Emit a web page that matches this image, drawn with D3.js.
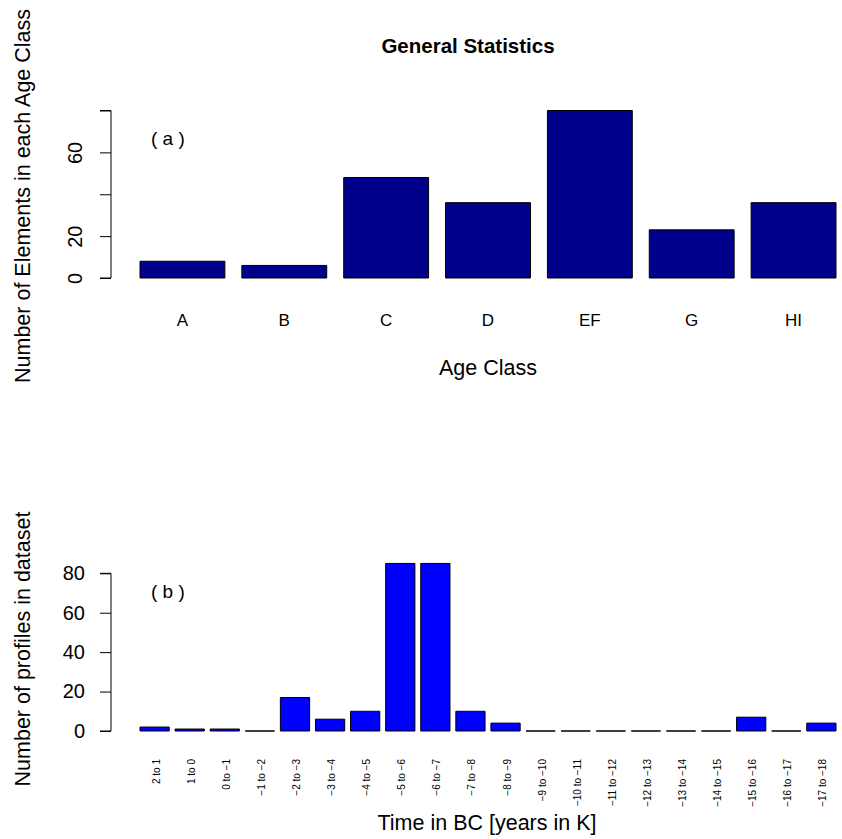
<!DOCTYPE html>
<html>
<head>
<meta charset="utf-8">
<script src="https://cdn.jsdelivr.net/npm/d3@7"></script>
<style>
  html, body { margin: 0; padding: 0; background: #fff; }
  svg { display: block; font-family: "Liberation Sans", Arial, Helvetica, sans-serif; }
</style>
</head>
<body>
<script>
// ---- data ----
const ageClasses = ["A", "B", "C", "D", "EF", "G", "HI"];
const ageCounts  = [8, 6, 48, 36, 80, 23, 36];
const ageTicks   = [0, 20, 40, 60, 80];
const ageTickLabels = ["0", "20", "", "60", ""];

const timeBins = ["2 to 1", "1 to 0", "0 to \u22121", "\u22121 to \u22122", "\u22122 to \u22123",
  "\u22123 to \u22124", "\u22124 to \u22125", "\u22125 to \u22126", "\u22126 to \u22127", "\u22127 to \u22128",
  "\u22128 to \u22129", "\u22129 to \u221210", "\u221210 to \u221211", "\u221211 to \u221212",
  "\u221212 to \u221213", "\u221213 to \u221214", "\u221214 to \u221215", "\u221215 to \u221216",
  "\u221216 to \u221217", "\u221217 to \u221218"];
const timeCounts = [2, 1, 1, 0, 17, 6, 10, 85, 85, 10, 4, 0, 0, 0, 0, 0, 0, 7, 0, 4];
const timeTicks  = [0, 20, 40, 60, 80];
const timeTickLabels = ["0", "20", "40", "60", "80"];

// ---- layout ----
const W = 842, H = 839;
const svg = d3.select("body").append("svg").attr("width", W).attr("height", H);

function barPanel(opts) {
  const g = svg.append("g");
  const x = d3.scaleBand().domain(opts.cats).range([140, 836])
    .paddingInner(1 / 6).paddingOuter(0);
  const y = d3.scaleLinear().domain([0, 80]).range([opts.y0, opts.y80]);

  g.selectAll("path.bar").data(opts.cats).enter().append("path")
    .attr("class", "bar")
    .attr("d", (d, i) => {
      const x0 = x(d), x1 = x(d) + x.bandwidth();
      const yt = y(opts.vals[i]), yb = y(0);
      return `M${x0},${yb}H${x1}V${yt}H${x0}Z`;
    })
    .attr("fill", opts.fill)
    .attr("stroke", "#000")
    .attr("stroke-width", 1);

  // y axis
  const ax = d3.axisLeft(y).tickValues(opts.ticks).tickSize(11).tickPadding(15)
    .tickFormat((d, i) => opts.tickLabels[i]);
  const ag = g.append("g").attr("transform", `translate(111,0)`).call(ax);
  ag.select(".domain").attr("stroke", "#000").attr("d", `M-11,${y(0)}H0V${y(80)}H-11`);
  ag.selectAll(".tick line").attr("stroke", "#000");
  ag.selectAll("text").attr("fill", "#000").style("font-size", "20px")
    .style("font-family", "Liberation Sans, Arial, sans-serif");
  if (opts.vertTicks) {
    ag.selectAll(".tick text")
      .attr("x", null).attr("dy", null)
      .attr("text-anchor", "middle")
      .attr("transform", "translate(-29,0) rotate(-90)");
  }
  return { g, x, y };
}

// Panel (a)
const pa = barPanel({
  cats: ageClasses, vals: ageCounts, y0: 278, y80: 110.5, fill: "#00008B",
  ticks: ageTicks, tickLabels: ageTickLabels, vertTicks: true
});
pa.g.selectAll("text.cat").data(ageClasses).enter().append("text")
  .attr("class", "cat")
  .attr("x", d => pa.x(d) + pa.x.bandwidth() / 2)
  .attr("y", 326)
  .attr("text-anchor", "middle")
  .style("font-size", "17px")
  .text(d => d);

svg.append("text").attr("x", 468).attr("y", 53).attr("text-anchor", "middle")
  .style("font-size", "20.5px").style("font-weight", "bold").text("General Statistics");
svg.append("text").attr("x", 488).attr("y", 375).attr("text-anchor", "middle")
  .style("font-size", "21.5px").text("Age Class");
svg.append("text").attr("transform", "translate(30,196) rotate(-90)")
  .attr("text-anchor", "middle").style("font-size", "21.5px")
  .text("Number of Elements in each Age Class");
svg.append("text").attr("x", 151).attr("y", 145).style("font-size", "19px")
  .text("( a )");

// Panel (b)
const pb = barPanel({
  cats: timeBins, vals: timeCounts, y0: 731, y80: 573.3, fill: "#0000FF",
  ticks: timeTicks, tickLabels: timeTickLabels, vertTicks: false
});
pb.g.selectAll("text.cat").data(timeBins).enter().append("text")
  .attr("class", "cat")
  .attr("transform", d => `translate(${pb.x(d) + pb.x.bandwidth() / 2 + 5},759) rotate(-90)`)
  .attr("text-anchor", "end")
  .style("font-size", "10px")
  .text(d => d);

svg.append("text").attr("x", 487).attr("y", 830).attr("text-anchor", "middle")
  .style("font-size", "21.5px").text("Time in BC [years in K]");
svg.append("text").attr("transform", "translate(30,649) rotate(-90)")
  .attr("text-anchor", "middle").style("font-size", "21.5px")
  .text("Number of profiles in dataset");
svg.append("text").attr("x", 151).attr("y", 598).style("font-size", "19px")
  .text("( b )");
</script>
</body>
</html>
